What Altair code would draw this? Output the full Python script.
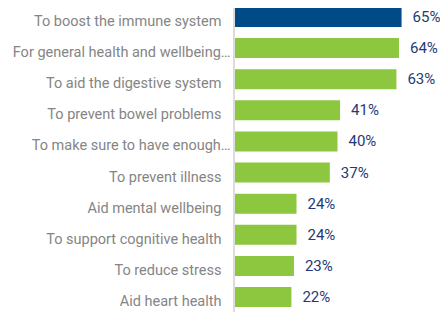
import altair as alt
import pandas as pd

categories = [
    "To boost the immune system",
    "For general health and wellbeing…",
    "To aid the digestive system",
    "To prevent bowel problems",
    "To make sure to have enough…",
    "To prevent illness",
    "Aid mental wellbeing",
    "To support cognitive health",
    "To reduce stress",
    "Aid heart health",
]
values = [65, 64, 63, 41, 40, 37, 24, 24, 23, 22]
groups = ["top", "other", "other", "other", "other", "other", "other", "other", "other", "other"]
labels = [f"{v}%" for v in values]

df = pd.DataFrame({"reason": categories, "pct": values, "grp": groups, "label": labels})

y_enc = alt.Y(
    "reason:N",
    sort=categories,
    title=None,
    scale=alt.Scale(range=[-1, 299], paddingInner=0.357, paddingOuter=0),
    axis=alt.Axis(
        domain=False,
        ticks=False,
        labelFont="Roboto",
        labelFontSize=14.5,
        labelColor="#858585",
        labelPadding=alt.expr("indexof(datum.value, '…') >= 0 ? 5 : 14"),
        labelOffset=5,
        labelLimit=400,
    ),
)
x_enc = alt.X("pct:Q", scale=alt.Scale(domain=[0, 80]), axis=None)

bars = alt.Chart(df).mark_bar().encode(
    x=x_enc,
    y=y_enc,
    color=alt.Color(
        "grp:N",
        scale=alt.Scale(domain=["top", "other"], range=["#004b87", "#8dc63f"]),
        legend=None,
    ),
)

texts = alt.Chart(df).mark_text(
    align="left", baseline="middle", dx=11, font="Roboto", fontSize=15, color="#1f3a75"
).encode(x=x_enc, y=alt.Y("reason:N", sort=categories), text="label:N")

axis_line = alt.Chart(df).mark_rule(color="#dcdcdc", strokeWidth=2).encode(
    x=alt.value(-1), y=alt.value(-8), y2=alt.value(304)
)
left_border = alt.Chart(df).mark_rule(color="#e6e6e6", strokeWidth=2).encode(
    x=alt.value(-233.5), y=alt.value(-8), y2=alt.value(304)
)

chart = (
    alt.layer(left_border, axis_line, bars, texts)
    .properties(
        width=205,
        height=304,
        padding={"left": 227, "top": 0, "right": 0, "bottom": 0},
        autosize=alt.AutoSizeParams(type="none"),
    )
    .configure_view(stroke=None)
)

chart.save("out.html", embed_options={"renderer": "svg", "actions": False})
